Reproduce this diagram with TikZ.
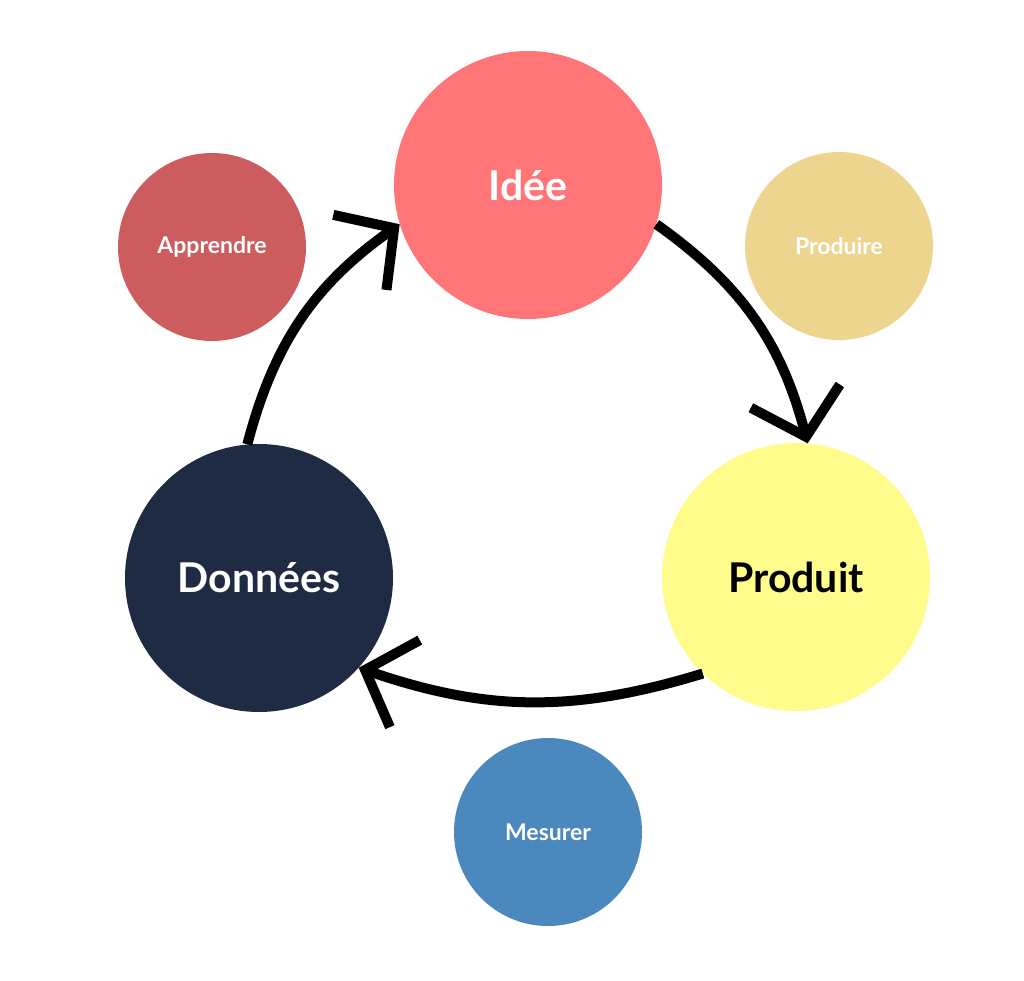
\documentclass[tikz,border=0pt]{standalone}
\usepackage{fontspec}
\setmainfont{Lato}
\usetikzlibrary{arrows.meta}
\definecolor{cidee}{HTML}{FF7578}
\definecolor{capp}{HTML}{CC5C5E}
\definecolor{cprodr}{HTML}{EDD58F}
\definecolor{cprodt}{HTML}{FFFC8C}
\definecolor{cdon}{HTML}{1E2B43}
\definecolor{cmes}{HTML}{4A88BE}
\tikzset{
big/.style={circle,minimum size=268pt,inner sep=0pt,font=\fontsize{41}{44}\selectfont\bfseries},
small/.style={circle,minimum size=188pt,inner sep=0pt,text=white,font=\fontsize{23}{26}\selectfont\bfseries},
cyc/.style={line width=10pt,-{Straight Barb[length=42pt,width=92pt,line width=10pt]}}
}
\begin{document}
\begin{tikzpicture}[x=1pt,y=-1pt]
\useasboundingbox (0,0) rectangle (1024,981);
\node[big,fill=cidee,text=white] (idee) at (528,185) {Idée};
\node[small,fill=cprodr] (produire) at (839,246) {Produire};
\node[small,fill=capp] (apprendre) at (212,247) {Apprendre};
\node[big,fill=cprodt,text=black] (produit) at (796,577) {Produit};
\node[big,fill=cdon,text=white] (donnees) at (259,578) {Données};
\node[small,fill=cmes] (mesurer) at (548,832) {Mesurer};
\draw[cyc] (idee.-17) to[bend left=20] (produit.85);
\draw[cyc] (produit.-134) to[bend left=18] (donnees.-42);
\draw[cyc] (donnees.95) to[bend left=20] (idee.197);
\end{tikzpicture}
\end{document}
